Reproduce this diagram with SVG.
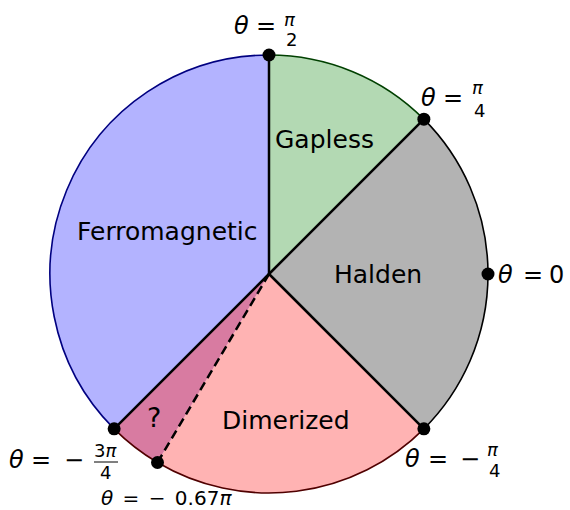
<svg xmlns="http://www.w3.org/2000/svg" width="570" height="510" viewBox="0 0 570 510">
<style>
.lbl{font-family:"DejaVu Sans",sans-serif;font-size:25px;fill:#000}
.m{font-family:"DejaVu Sans",sans-serif;font-size:24px;fill:#000}
.mi{font-style:italic}
.fr{font-family:"DejaVu Sans",sans-serif;font-size:18px;fill:#000}
.ray{stroke:#000;stroke-width:2.5;fill:none}
.arc{fill:none;stroke-width:1.6}
.dot{fill:#000}
</style>
<rect width="570" height="510" fill="#fff"/>
<g id="ferromagnetic">
<path d="M269,274 L114.14,428.86 A219,219 0 0 1 269,55 Z" fill="#b3b3ff"/>
<path class="arc" d="M114.14,428.86 A219,219 0 0 1 269,55" stroke="#000080"/>
<text class="lbl" x="77" y="240">Ferromagnetic</text>
</g>
<g id="gapless">
<path d="M269,274 L269,55 A219,219 0 0 1 423.86,119.14 Z" fill="#b3d9b3"/>
<path class="arc" d="M269,55 A219,219 0 0 1 423.86,119.14" stroke="#004000"/>
<text class="lbl" x="275" y="148">Gapless</text>
</g>
<g id="halden">
<path d="M269,274 L423.86,119.14 A219,219 0 0 1 423.86,428.86 Z" fill="#b3b3b3"/>
<path class="arc" d="M423.86,119.14 A219,219 0 0 1 423.86,428.86" stroke="#000"/>
<text class="lbl" x="334" y="283">Halden</text>
</g>
<g id="dimerized">
<path d="M269,274 L423.86,428.86 A219,219 0 0 1 157.5,462.5 Z" fill="#ffb3b3"/>
<path class="arc" d="M423.86,428.86 A219,219 0 0 1 157.5,462.5" stroke="#500000"/>
<text class="lbl" x="222" y="429">Dimerized</text>
</g>
<g id="unknown">
<path d="M269,274 L157.5,462.5 A219,219 0 0 1 114.14,428.86 Z" fill="#d87ba1"/>
<path class="arc" d="M157.5,462.5 A219,219 0 0 1 114.14,428.86" stroke="#500000"/>
<text class="lbl" x="147" y="427" style="font-size:27px">?</text>
</g>
<g id="connectors">
<line class="ray" x1="269" y1="274" x2="269" y2="55"/>
<line class="ray" x1="269" y1="274" x2="423.86" y2="119.14"/>
<line class="ray" x1="269" y1="274" x2="423.86" y2="428.86"/>
<line class="ray" x1="269" y1="274" x2="114.14" y2="428.86"/>
<line class="ray" x1="269" y1="274" x2="157.5" y2="462.5" stroke-dasharray="9,5"/>
</g>
<g id="points">
<circle class="dot" cx="269" cy="55" r="6.5"/>
<circle class="dot" cx="423.86" cy="119.14" r="6.5"/>
<circle class="dot" cx="488" cy="274" r="6.5"/>
<circle class="dot" cx="423.86" cy="428.86" r="6.5"/>
<circle class="dot" cx="114.14" cy="428.86" r="6.5"/>
<circle class="dot" cx="157.5" cy="462.5" r="6.5"/>
</g>
<g id="label-pi2">
<text class="m" y="34"><tspan class="mi" x="234">θ</tspan><tspan x="256">=</tspan></text>
<text class="fr mi" x="284" y="26">π</text>
<text class="fr" x="286" y="46">2</text>
</g>
<g id="label-pi4">
<text class="m" y="106"><tspan class="mi" x="421">θ</tspan><tspan x="443">=</tspan></text>
<text class="fr mi" x="472" y="94">π</text>
<text class="fr" x="474" y="117">4</text>
</g>
<g id="label-0">
<text class="m" y="283"><tspan class="mi" x="498">θ</tspan><tspan x="523">=</tspan><tspan x="549">0</tspan></text>
</g>
<g id="label-mpi4">
<text class="m" y="467"><tspan class="mi" x="405">θ</tspan><tspan x="428">=</tspan><tspan x="460">−</tspan></text>
<text class="fr mi" x="487" y="456">π</text>
<text class="fr" x="489" y="477">4</text>
</g>
<g id="label-m3pi4">
<text class="m" y="468"><tspan class="mi" x="9">θ</tspan><tspan x="31">=</tspan><tspan x="64">−</tspan></text>
<text class="fr" x="94" y="457">3<tspan class="mi">π</tspan></text>
<line x1="94" y1="462" x2="118" y2="462" stroke="#000" stroke-width="1"/>
<text class="fr" x="100" y="479">4</text>
</g>
<g id="label-m067pi">
<text style="font-family:'DejaVu Sans',sans-serif;font-size:20px;word-spacing:3px" x="101" y="505"><tspan class="mi">θ</tspan> = − 0.67<tspan class="mi">π</tspan></text>
</g>
</svg>
